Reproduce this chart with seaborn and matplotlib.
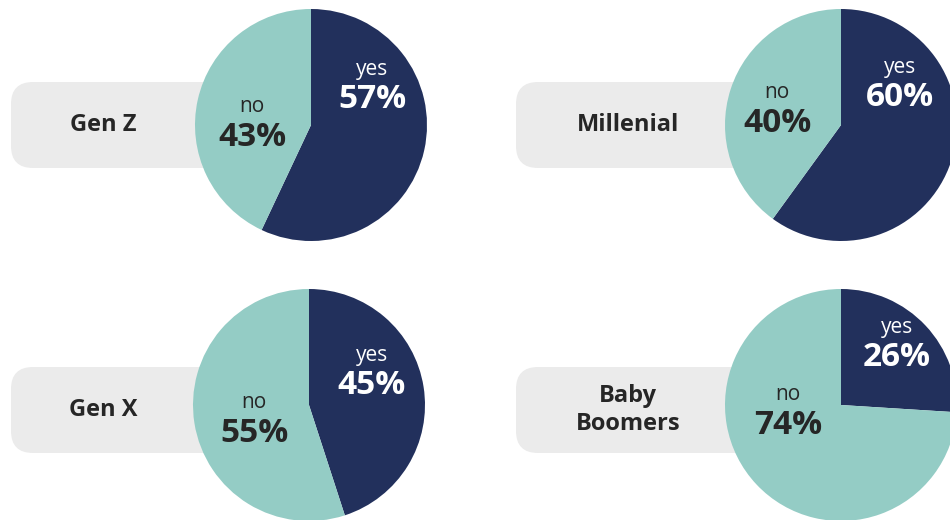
import matplotlib
matplotlib.use("Agg")
import matplotlib.pyplot as plt
from matplotlib.patches import FancyBboxPatch
import seaborn as sns

# --- Data ---
groups = ["Gen Z", "Millenial", "Gen X", "Baby\nBoomers"]
yes_pct = [57, 60, 45, 26]
no_pct = [43, 40, 55, 74]
answer_labels = ["yes", "no"]

# --- Layout (image pixels, y measured from the top) ---
W, H = 950, 520
pie_centers = [(311, 125), (841, 125), (309, 405), (841, 405)]
pie_radius = 116
box_left = [11, 516, 11, 516]
box_top = [82, 82, 367, 367]
box_w, box_h = 260, 86
label_x = [103, 628, 103, 628]
# offsets of (yes, no) text blocks from the pie centre
yes_offsets = [(61, -56), (59, -58), (63, -50), (56, -78)]
no_offsets = [(-59, -18), (-64, -33), (-55, -2), (-53, -11)]
line_gap = 31

NAVY = "#22305c"
TEAL = "#94ccc5"
GREY = "#ebebeb"
DARK = "#262626"

sns.set_theme(style="white")
plt.rcParams["font.family"] = ["Open Sans", "DejaVu Sans"]
plt.rcParams["font.stretch"] = "normal"


def fy(y):
    """Flip an image y coordinate into axis coordinates."""
    return H - y


fig = plt.figure(figsize=(9.5, 5.2), dpi=100)
ax = fig.add_axes([0, 0, 1, 1])

for i, name in enumerate(groups):
    cx, cy = pie_centers[i]

    # rounded label box behind the pie
    box = FancyBboxPatch((box_left[i], fy(box_top[i] + box_h)), box_w, box_h,
                         boxstyle="round,pad=0,rounding_size=22",
                         facecolor=GREY, edgecolor="none", zorder=1)
    ax.add_patch(box)
    ax.text(label_x[i], fy(box_top[i] + box_h / 2), name, ha="center", va="center",
            fontsize=17, fontweight="bold", color=DARK, linespacing=1.25, zorder=2)

    wedges, _ = ax.pie([yes_pct[i], no_pct[i]], colors=[NAVY, TEAL], startangle=90,
                       counterclock=False, center=(cx, fy(cy)), radius=pie_radius,
                       wedgeprops=dict(linewidth=0))
    for w in wedges:
        w.set_zorder(3)

    # yes / no annotations
    for (dx, dy), word, val, col in [(yes_offsets[i], answer_labels[0], yes_pct[i], "white"),
                                     (no_offsets[i], answer_labels[1], no_pct[i], DARK)]:
        ax.text(cx + dx, fy(cy + dy), word, ha="center", va="center",
                fontsize=15, color=col, zorder=4)
        ax.text(cx + dx, fy(cy + dy + line_gap), f"{val}%", ha="center", va="center",
                fontsize=24, fontweight="bold", color=col, zorder=4)

ax.set_xlim(0, W)
ax.set_ylim(0, H)
ax.set_aspect("equal")
ax.axis("off")

fig.savefig("out.png", dpi=100, facecolor="white")
